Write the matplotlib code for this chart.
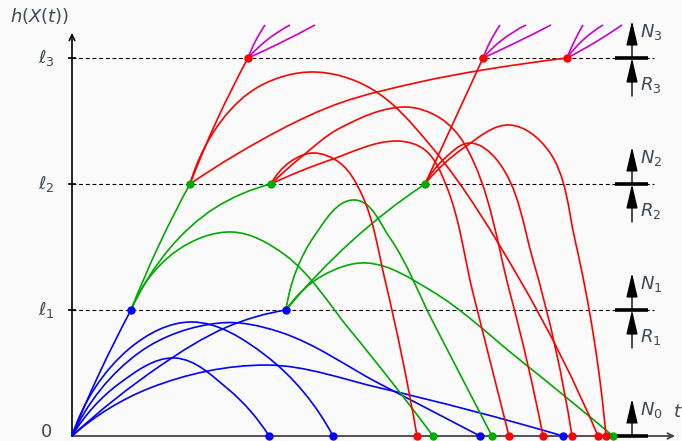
"""Splitting scheme: h(X(t)) paths crossing levels l1, l2, l3."""

import numpy as np
import matplotlib.pyplot as plt
from matplotlib.path import Path
from matplotlib.patches import PathPatch, ArrowStyle

plt.rcParams['mathtext.fontset'] = 'dejavusans'

# levels and labels
levels = [0, 1, 2, 3]
level_labels = ['0', r'$\ell_1$', r'$\ell_2$', r'$\ell_3$']
n_labels = [r'$N_0$', r'$N_1$', r'$N_2$', r'$N_3$']
r_labels = [None, r'$R_1$', r'$R_2$', r'$R_3$']

# first generation (blue), start at origin
blue_t = [[0, 0.27, 0.59],
          [0, 0.88, 1.55, 2.14],
          [0, 0.58, 1.20, 1.93, 2.61],
          [0, 0.68, 1.48, 2.08, 3.08, 4.08],
          [0, 0.48, 1.03, 1.56, 1.97],
          [0, 0.78, 1.95, 3.08, 4.91]]
blue_h = [[0, 0.492, 1],
          [0, 0.556, 0.865, 1],
          [0, 0.698, 0.905, 0.643, 0],
          [0, 0.667, 0.897, 0.825, 0.413, 0],
          [0, 0.421, 0.619, 0.373, 0],
          [0, 0.381, 0.563, 0.381, 0]]

# second generation (green), start at level 1
green_t = [[0.59, 0.87, 1.18],
           [0.59, 0.98, 1.43, 1.99],
           [0.59, 1.03, 1.60, 2.13, 2.78, 3.61],
           [2.14, 2.81, 3.53],
           [2.14, 2.43, 2.83, 3.18, 3.60, 4.20],
           [2.14, 2.50, 2.95, 3.58, 4.48, 5.41]]
green_h = [[1, 1.516, 2],
           [1, 1.492, 1.810, 2],
           [1, 1.460, 1.619, 1.437, 0.841, 0],
           [1, 1.556, 2],
           [1, 1.595, 1.873, 1.571, 0.921, 0],
           [1, 1.270, 1.373, 1.159, 0.603, 0]]

# third generation (red), start at level 2
red_t = [[1.18, 1.45, 1.76],
         [1.18, 1.50, 1.88, 2.41, 2.98, 3.58, 4.48, 5.26],
         [1.18, 2.08, 2.68, 3.48, 4.11, 4.95],
         [1.99, 2.18, 2.41, 2.68, 2.90, 3.13, 3.45],
         [1.99, 2.58, 3.26, 3.53, 3.74, 4.01, 4.37],
         [1.99, 2.28, 2.68, 3.33, 3.68, 3.93, 4.38, 4.71],
         [3.53, 3.83, 4.11],
         [3.53, 3.93, 4.38, 4.76, 5.03, 5.34],
         [3.53, 3.73, 3.98, 4.25, 4.61, 5.00]]
red_h = [[2, 2.508, 3],
         [2, 2.508, 2.778, 2.889, 2.762, 2.310, 1.238, 0],
         [2, 2.429, 2.643, 2.810, 2.905, 3],
         [2, 2.175, 2.246, 2.167, 1.913, 1.238, 0],
         [2, 2.190, 2.341, 2.270, 1.992, 1.135, 0],
         [2, 2.206, 2.444, 2.611, 2.524, 2.310, 1.135, 0],
         [2, 2.516, 3],
         [2, 2.294, 2.468, 2.270, 1.556, 0],
         [2, 2.206, 2.325, 2.190, 1.397, 0]]

# fourth generation (magenta), start at level 3
magenta_t = [[1.76, 1.83, 1.93], [1.76, 1.95, 2.18], [1.76, 2.08, 2.43],
             [4.11, 4.18, 4.28], [4.11, 4.30, 4.54], [4.11, 4.43, 4.79],
             [4.95, 5.02, 5.11], [4.95, 5.11, 5.31], [4.95, 5.22, 5.50]]
magenta_h = [[3, 3.127, 3.262], [3, 3.143, 3.262], [3, 3.119, 3.262]] * 3

ASPECT = 1.26  # one h unit is 1.26 times as long as one t unit on screen


def smooth_path(t, h):
    """Smooth G1 cubic Bezier path through the points."""
    pts = np.column_stack([t, np.asarray(h) * ASPECT])
    n = len(pts)
    unit = lambda v: v / np.linalg.norm(v)
    tang = np.zeros_like(pts)
    for i in range(1, n - 1):
        tang[i] = unit(unit(pts[i] - pts[i - 1]) + unit(pts[i + 1] - pts[i]))
    tang[0] = unit(2 * unit(pts[1] - pts[0]) - tang[1])
    tang[-1] = unit(2 * unit(pts[-1] - pts[-2]) - tang[-2])
    verts = [pts[0]]
    codes = [Path.MOVETO]
    for i in range(n - 1):
        L = np.linalg.norm(pts[i + 1] - pts[i]) / 3
        verts += [pts[i] + tang[i] * L, pts[i + 1] - tang[i + 1] * L,
                  pts[i + 1]]
        codes += [Path.CURVE4] * 3
    verts = np.array(verts)
    verts[:, 1] /= ASPECT
    return Path(verts, codes)


fig = plt.figure(figsize=(6.82, 4.41), dpi=100)
fig.patch.set_facecolor('#fafafa')
ax = fig.add_axes([0, 0, 1, 1])
ax.set_xlim(-0.72, 6.10)
ax.set_ylim(-0.0397, 3.4603)
ax.axis('off')

text_color = '#3c4a54'

# dashed level lines and ticks
ax.hlines(levels[1:], 0, 5.82, colors='k', lw=0.8, linestyles=(0, (3.5, 2.5)),
          zorder=1)
ax.hlines(levels[1:], -0.04, 0.04, colors='k', lw=1.2, zorder=3)

# axes with arrows
ax.annotate('', xy=(6.03, 0), xytext=(0, 0),
            arrowprops=dict(arrowstyle='->', lw=1.3, color='#444444',
                            shrinkA=0, shrinkB=0), zorder=2)
ax.annotate('', xy=(0, 3.198), xytext=(0, 0),
            arrowprops=dict(arrowstyle='->', lw=1.2, color='k',
                            shrinkA=0, shrinkB=0), zorder=2)

for lv, lab in zip(levels, level_labels):
    ax.text(-0.26, max(lv, 0.03), lab, ha='center', va='center', fontsize=13,
            color=text_color)
ax.text(-0.32, 3.333, r'$h(X(t))$', ha='center', va='center', fontsize=13,
        color=text_color)
ax.text(6.06, 0.19, r'$t$', ha='center', va='center', fontsize=13,
        color=text_color)

# curves
families = [(blue_t, blue_h, '#0000ff', True),
            (green_t, green_h, '#00aa00', True),
            (red_t, red_h, '#ff0000', True),
            (magenta_t, magenta_h, '#cc00cc', False)]
for ts, hs, color, dots in families:
    for t, h in zip(ts, hs):
        ax.add_patch(PathPatch(smooth_path(t, h), fc='none', ec=color,
                               lw=1.2, zorder=4))
for ts, hs, color, dots in families:
    if dots:
        ax.plot([t[-1] for t in ts], [h[-1] for h in hs], 'o', color=color,
                ms=5, zorder=6, clip_on=False)

# N / R markers on the right
mark_t = 5.60
head = ArrowStyle('-|>', head_length=1.5, head_width=0.35)
for lv, nlab, rlab in zip(levels, n_labels, r_labels):
    ax.plot([5.43, 5.76], [lv, lv], color='k', lw=2.6, zorder=5,
            solid_capstyle='butt')
    ax.annotate('', xy=(mark_t, lv + 0.294), xytext=(mark_t, lv),
                arrowprops=dict(arrowstyle=head, mutation_scale=10, lw=1,
                                color='k', shrinkA=0, shrinkB=0), zorder=5)
    ax.text(5.68, lv + 0.206, nlab, ha='left', va='center', fontsize=13,
            color=text_color)
    if rlab is not None:
        ax.annotate('', xy=(mark_t, lv), xytext=(mark_t, lv - 0.302),
                    arrowprops=dict(arrowstyle=head, mutation_scale=10, lw=1,
                                    color='k', shrinkA=0, shrinkB=0), zorder=5)
        ax.text(5.68, lv - 0.214, rlab, ha='left', va='center', fontsize=13,
                color=text_color)

fig.savefig('out.png', dpi=100, facecolor=fig.get_facecolor())
